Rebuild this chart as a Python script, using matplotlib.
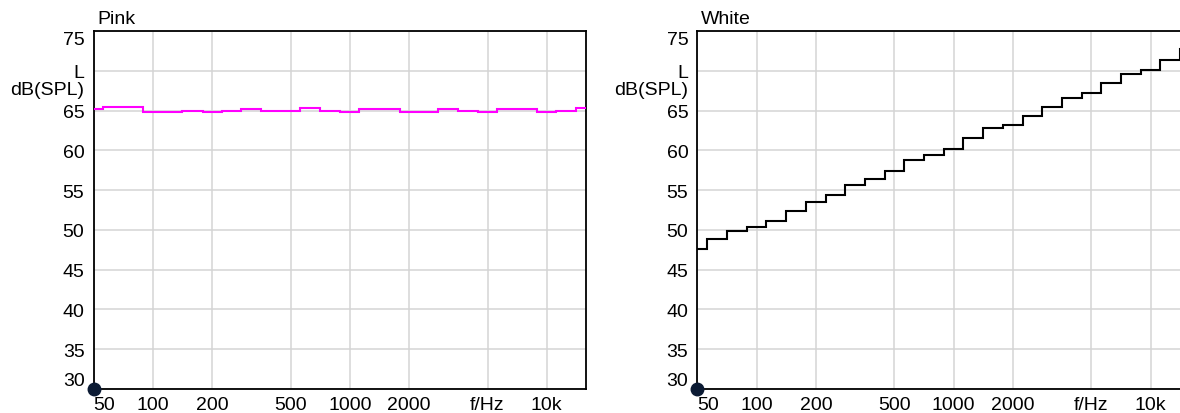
import matplotlib.pyplot as plt
from matplotlib.ticker import NullLocator
from matplotlib.transforms import offset_copy

plt.rcParams["font.family"] = ["Liberation Sans", "DejaVu Sans"]

# 1/3-octave band centres (Hz)
bands = [50, 63, 80, 100, 125, 160, 200, 250, 315, 400, 500, 630, 800,
         1000, 1250, 1600, 2000, 2500, 3150, 4000, 5000, 6300, 8000,
         10000, 12500, 16000]

pink_db = [65.15, 65.4, 65.4, 64.8, 64.8, 64.95, 64.8, 64.95, 65.15, 64.95,
           64.95, 65.3, 64.95, 64.8, 65.15, 65.15, 64.8, 64.8, 65.15, 65.0,
           64.8, 65.15, 65.15, 64.8, 65.0, 65.3]

white_db = [47.6, 48.85, 49.85, 50.35, 51.15, 52.4, 53.45, 54.4, 55.6, 56.4,
            57.4, 58.75, 59.4, 60.15, 61.6, 62.75, 63.15, 64.35, 65.5, 66.55,
            67.15, 68.5, 69.55, 70.1, 71.35, 72.75]

x_ticks = [50, 100, 200, 500, 1000, 2000, 5000, 10000]
x_labels = ["50", "100", "200", "500", "1000", "2000", "f/Hz", "10k"]
y_ticks = [30, 35, 40, 45, 50, 55, 60, 65, 70, 75]
y_labels = ["30", "35", "40", "45", "50", "55", "60", "65", "L", "75"]

# band edges: geometric means between neighbours, outer ones half a band out
edges = [bands[0] / 2 ** (1 / 6)]
edges += [(a * b) ** 0.5 for a, b in zip(bands[:-1], bands[1:])]
edges += [bands[-1] * 2 ** (1 / 6)]

W, H = 1180, 414
FS = 14
fig = plt.figure(figsize=(W / 100, H / 100), dpi=100)


def panel(left, title, values, color):
    ax = fig.add_axes([left / W, 24 / H, 492.5 / W, 358 / H])
    ax.set_xscale("log")
    ax.set_xlim(50, 15811)
    ax.set_ylim(30, 75)
    ax.set_xticks(x_ticks, x_labels)
    ax.set_yticks(y_ticks, y_labels)
    ax.xaxis.set_minor_locator(NullLocator())
    ax.tick_params(length=0, labelsize=FS, colors="black")
    ax.tick_params(axis="y", pad=6.5)
    ax.tick_params(axis="x", pad=5)
    ax.grid(True, color="#d4d4d4", lw=1.1)
    ax.set_axisbelow(True)
    for s in ax.spines.values():
        s.set_linewidth(1.3)
        s.set_color("black")
    ax.get_xticklabels()[0].set_ha("left")
    ax.get_yticklabels()[0].set_va("bottom")
    ax.get_yticklabels()[-1].set_va("top")

    ax.stairs(values, edges, baseline=None, color=color, lw=1.5, zorder=3)

    tr = offset_copy(ax.get_yaxis_transform(), fig=fig, x=-6.5, y=0,
                     units="points")
    ax.text(0, 67.7, "dB(SPL)", transform=tr, ha="right", va="center",
            fontsize=FS)
    ax.text(0.008, 1.0, title, transform=offset_copy(ax.transAxes, fig=fig,
            y=3, units="points"), ha="left", va="bottom", fontsize=FS)
    ax.plot([50], [30], "o", ms=9, color="#0b1a33", clip_on=False, zorder=5)
    return ax


panel(93.5, "Pink", pink_db, "#ff00ff")
panel(697.4, "White", white_db, "black")

fig.savefig("out.png", dpi=100)
